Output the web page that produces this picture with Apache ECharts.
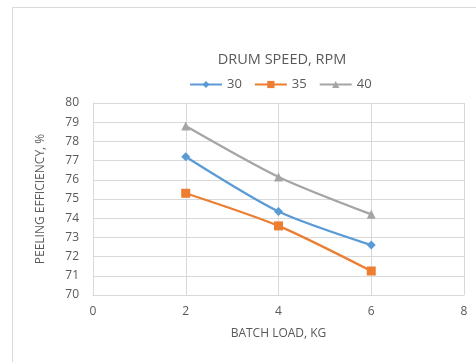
<!DOCTYPE html>
<html>
<head>
<meta charset="utf-8">
<script src="https://cdn.jsdelivr.net/npm/echarts@6/dist/echarts.min.js"></script>
<style>html,body{margin:0;padding:0;background:#fff;}#c{width:476px;height:362px;}</style>
</head>
<body>
<div id="c"></div>
<script>
var batchLoad = [2, 4, 6];
var rpm30 = [77.2, 74.35, 72.6];
var rpm35 = [75.3, 73.6, 71.25];
var rpm40 = [78.8, 76.15, 74.2];
var seriesNames = ['30', '35', '40'];
var seriesColors = ['#5B9BD5', '#ED7D31', '#A5A5A5'];
var seriesSymbols = ['diamond', 'rect', 'triangle'];
var seriesSizes = [9, 9, 9];
var seriesValues = [rpm30, rpm35, rpm40];

function pairs(xs, ys) { return xs.map(function (x, i) { return [x, ys[i]]; }); }

var chart = echarts.init(document.getElementById('c'), null, { renderer: 'canvas' });
var txt = '#595959';
var font = '"Open Sans", "Liberation Sans", sans-serif';
chart.setOption({
  animation: false,
  textStyle: { fontFamily: font },
  graphic: [{
    type: 'rect', left: 10, top: 5, shape: { width: 500, height: 400 },
    style: { fill: 'none', stroke: '#D9D9D9', lineWidth: 1 }, silent: true
  }],
  title: {
    text: 'DRUM SPEED, RPM', left: 277, top: 47, textAlign: 'center',
    textStyle: { color: txt, fontSize: 14.5, fontWeight: 'normal', fontFamily: font }
  },
  legend: {
    data: seriesNames, left: 184, top: 73, itemWidth: 32, itemHeight: 9, itemGap: 12,
    textStyle: { color: txt, fontSize: 13, fontFamily: font }
  },
  grid: { left: 93, right: 12, top: 103, bottom: 67, containLabel: false },
  xAxis: {
    type: 'value', min: 0, max: 8, interval: 2,
    name: 'BATCH LOAD, KG', nameLocation: 'middle', nameGap: 33,
    nameTextStyle: { color: txt, fontSize: 12, fontFamily: font },
    axisLine: { show: true, lineStyle: { color: '#D9D9D9' } },
    axisTick: { show: false },
    axisLabel: { color: txt, fontSize: 12, margin: 11 },
    splitLine: { show: true, lineStyle: { color: '#D9D9D9' } }
  },
  yAxis: {
    type: 'value', min: 70, max: 80, interval: 1,
    name: 'PEELING EFFICIENCY, %', nameLocation: 'middle', nameGap: 46,
    nameTextStyle: { color: txt, fontSize: 12, fontFamily: font },
    axisLine: { show: true, lineStyle: { color: '#D9D9D9' } },
    axisTick: { show: false },
    axisLabel: { color: txt, fontSize: 12, margin: 14 },
    splitLine: { show: true, lineStyle: { color: '#D9D9D9' } }
  },
  series: seriesNames.map(function (n, i) {
    return {
      name: n, type: 'line', data: pairs(batchLoad, seriesValues[i]),
      smooth: 0.25, symbol: seriesSymbols[i], symbolSize: seriesSizes[i],
      lineStyle: { color: seriesColors[i], width: 2.25 },
      itemStyle: { color: seriesColors[i] }
    };
  })
});
</script>
</body>
</html>
